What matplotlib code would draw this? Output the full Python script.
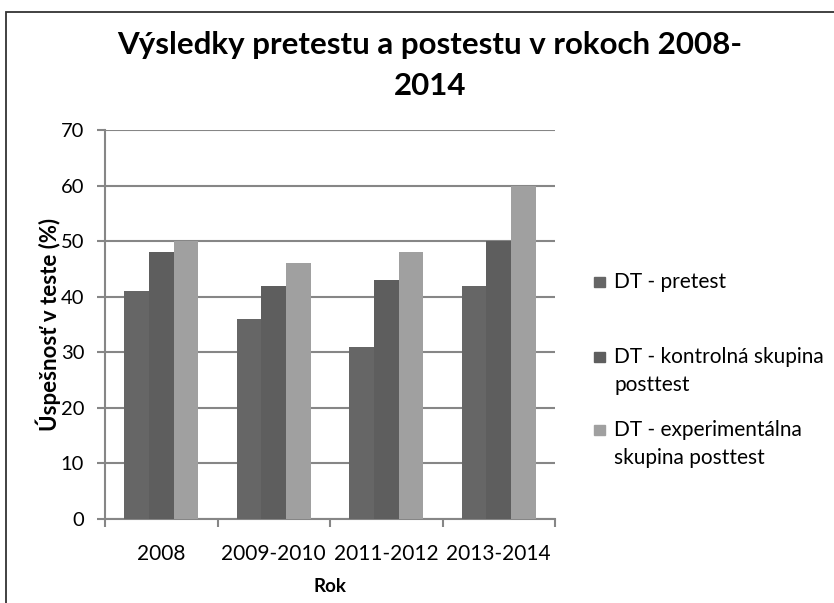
import matplotlib
matplotlib.use("Agg")
import matplotlib.pyplot as plt
from matplotlib.patches import Rectangle
import numpy as np

categories = ["2008", "2009-2010", "2011-2012", "2013-2014"]
pretest = [41, 36, 31, 42]
kontrolna = [48, 42, 43, 50]
experimentalna = [50, 46, 48, 60]
series_labels = ["DT - pretest", "DT - kontrolná skupina\nposttest", "DT - experimentálna\nskupina posttest"]
colors = ["#666666", "#5e5e5e", "#a0a0a0"]
yticks = [0, 10, 20, 30, 40, 50, 60, 70]

W, H = 834, 603
plt.rcParams['font.family'] = ['Lato', 'DejaVu Sans']
fig = plt.figure(figsize=(W / 100, H / 100), dpi=100)

def fx(px):
    return px / W

def fy(py):
    return 1 - py / H

ax = fig.add_axes([fx(105), fy(519), fx(555) - fx(105), fy(130) - fy(519)])

x = np.arange(len(categories))
w = 0.22
for i, (vals, c) in enumerate(zip([pretest, kontrolna, experimentalna], colors)):
    ax.bar(x + (i - 1) * w, vals, width=w, color=c, zorder=3)

ax.set_xlim(-0.5, len(categories) - 0.5)
ax.set_ylim(0, 70)
ax.set_yticks(yticks)
ax.set_yticklabels([str(t) for t in yticks], fontsize=14.5)
ax.yaxis.grid(True, color="#868686", linewidth=1.5, zorder=0)
ax.set_xticks(x)
ax.set_xticklabels(categories, fontsize=15)
ax.tick_params(axis='x', length=0, pad=18)
ax.set_xticks(np.arange(-0.5, len(categories)), minor=True)
ax.tick_params(axis='x', which='minor', length=6, width=1.5, color="#868686")
ax.tick_params(axis='y', length=6, width=1.5, color="#868686", pad=9)
for s in ["top", "right"]:
    ax.spines[s].set_visible(False)
for s in ["left", "bottom"]:
    ax.spines[s].set_color("#868686")
    ax.spines[s].set_linewidth(1.5)

ax.set_xlabel("Rok", fontsize=13.5, fontweight="bold", labelpad=10)
ax.set_ylabel("Úspešnosť v teste (%)", fontsize=16, fontweight="bold", labelpad=0)

fig.text(fx(430), fy(45), "Výsledky pretestu a postestu v rokoch 2008-", ha="center", va="center",
         fontsize=22.5, fontweight="bold")
fig.text(fx(430), fy(86), "2014", ha="center", va="center", fontsize=22.5, fontweight="bold")

# legend (manual)
leg_y = [282, 357, 430]
for lab, c, yy in zip(series_labels, colors, leg_y):
    fig.patches.append(Rectangle((fx(594), fy(yy + 5)), fx(11), fy(0) - fy(10),
                                 transform=fig.transFigure, color=c, figure=fig))
    lines = lab.split("\n")
    for k, line in enumerate(lines):
        fig.text(fx(614), fy(yy + 28 * k), line, ha="left", va="center", fontsize=15)

# chart border
fig.patches.append(Rectangle((fx(6), fy(H + 10)), fx(W + 10), fy(12) - fy(H + 10),
                             transform=fig.transFigure, fill=False, edgecolor="#333333",
                             linewidth=1.3, figure=fig))

fig.savefig("out.png", dpi=100)
